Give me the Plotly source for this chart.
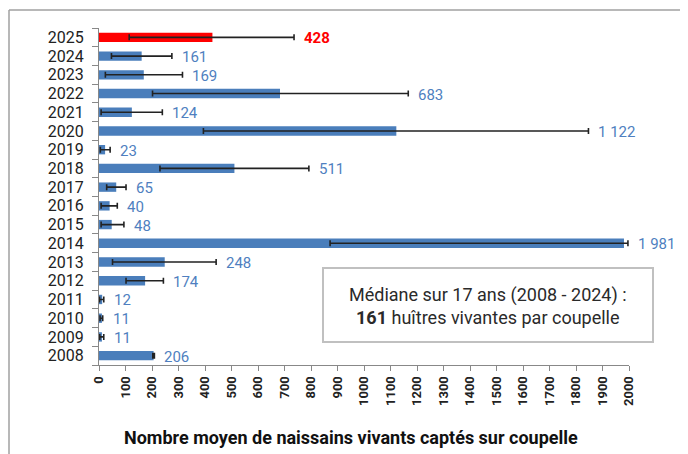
import plotly.graph_objects as go

years = [str(y) for y in range(2008, 2026)]
values = [206, 11, 11, 12, 174, 248, 1981, 48, 40, 65, 511, 23, 1122, 124, 683, 169, 161, 428]
err_low = [203, 3, 4, 2, 102, 51, 872, 8, 8, 29, 230, 5, 394, 8, 202, 24, 47, 114]
err_high = [209, 18, 14, 18, 243, 442, 1996, 94, 69, 102, 792, 42, 1847, 239, 1167, 315, 275, 736]
x_ticks = list(range(0, 2001, 100))

BLUE = "#4a7ebb"
LABEL_BLUE = "#4f7fc0"
RED = "#ff0000"

colors = [RED if y == "2025" else BLUE for y in years]
plus = [h - v for h, v in zip(err_high, values)]
minus = [v - l for v, l in zip(values, err_low)]

def fmt(v):
    return f"{v:,}".replace(",", " ")

fig = go.Figure()
fig.add_trace(go.Bar(
    y=years, x=values, orientation="h",
    marker=dict(color=colors, line=dict(width=0)),
    error_x=dict(type="data", symmetric=False, array=plus, arrayminus=minus,
                 color="#222222", thickness=1.6, width=3),
    hoverinfo="skip",
))

for i, (y, v, h) in enumerate(zip(years, values, err_high)):
    is_last = (y == "2025")
    fig.add_annotation(
        x=h, y=i, text=f"<b>{fmt(v)}</b>" if is_last else fmt(v),
        showarrow=False, xanchor="left", xshift=8, yshift=-1,
        font=dict(family="Roboto", size=15, color=RED if is_last else LABEL_BLUE),
    )

# page body has an 8px margin: figure is drawn 8px right/down
OFF = 8
W, H = 688 - OFF, 454 - OFF
L, R = 99 - OFF, 59
T, B = 28 - OFF, 89
pw = W - L - R
ph = H - T - B

def px_x(p):
    return (p - OFF - L) / pw

def px_y(p):
    return (H - B - (p - OFF)) / ph

# outer frame lines (left and top)
fig.add_shape(type="line", xref="paper", yref="paper",
              x0=px_x(9), x1=px_x(700), y0=px_y(10), y1=px_y(10),
              line=dict(color="#a0a0a0", width=1.5))
fig.add_shape(type="line", xref="paper", yref="paper",
              x0=px_x(9), x1=px_x(9), y0=px_y(10), y1=px_y(460),
              line=dict(color="#a0a0a0", width=1.5))

# median box
fig.add_shape(type="rect", xref="paper", yref="paper",
              x0=px_x(323), x1=px_x(653), y0=px_y(342), y1=px_y(268),
              line=dict(color="#c0c0c0", width=2), fillcolor="white")
fig.add_annotation(
    xref="paper", yref="paper", x=px_x(488), y=px_y(306),
    text="Médiane sur 17 ans (2008 - 2024) :<br><b>161</b> huîtres vivantes par coupelle",
    showarrow=False, align="center", xanchor="center", yanchor="middle",
    font=dict(family="Roboto", size=18, color="#2a2a2a"),
)

# x-axis title as paper annotation
fig.add_annotation(
    xref="paper", yref="paper", x=px_x(351), y=px_y(437),
    text="<b>Nombre moyen de naissains vivants captés sur coupelle</b>",
    showarrow=False, xanchor="center", yanchor="middle",
    font=dict(family="Roboto", size=18, color="#111111"),
)

fig.update_layout(
    width=W, height=H,
    margin=dict(l=L, r=R, t=T, b=B),
    paper_bgcolor="white", plot_bgcolor="white",
    bargap=0.5, showlegend=False,
    font=dict(family="Roboto"),
)
fig.update_xaxes(
    range=[0, 2000], tickvals=x_ticks, ticktext=[str(t) for t in x_ticks],
    tickangle=-90, ticks="outside", ticklen=5, tickcolor="#888888",
    showline=True, linecolor="#888888", linewidth=1,
    showgrid=False, zeroline=False,
    tickfont=dict(family="Roboto", size=13, color="#222222", weight="bold"),
)
fig.update_yaxes(
    type="category", categoryorder="array", categoryarray=years,
    range=[-0.5, len(years) - 0.5], autorange=False,
    tickmode="linear", tick0=0, dtick=1,
    ticks="outside", ticklen=6, tickcolor="#888888", tickson="boundaries",
    ticklabelstandoff=11,
    showline=True, linecolor="#888888", linewidth=1,
    showgrid=False,
    tickfont=dict(family="Roboto", size=16, color="#222222"),
)

fig.write_html("out.html")
